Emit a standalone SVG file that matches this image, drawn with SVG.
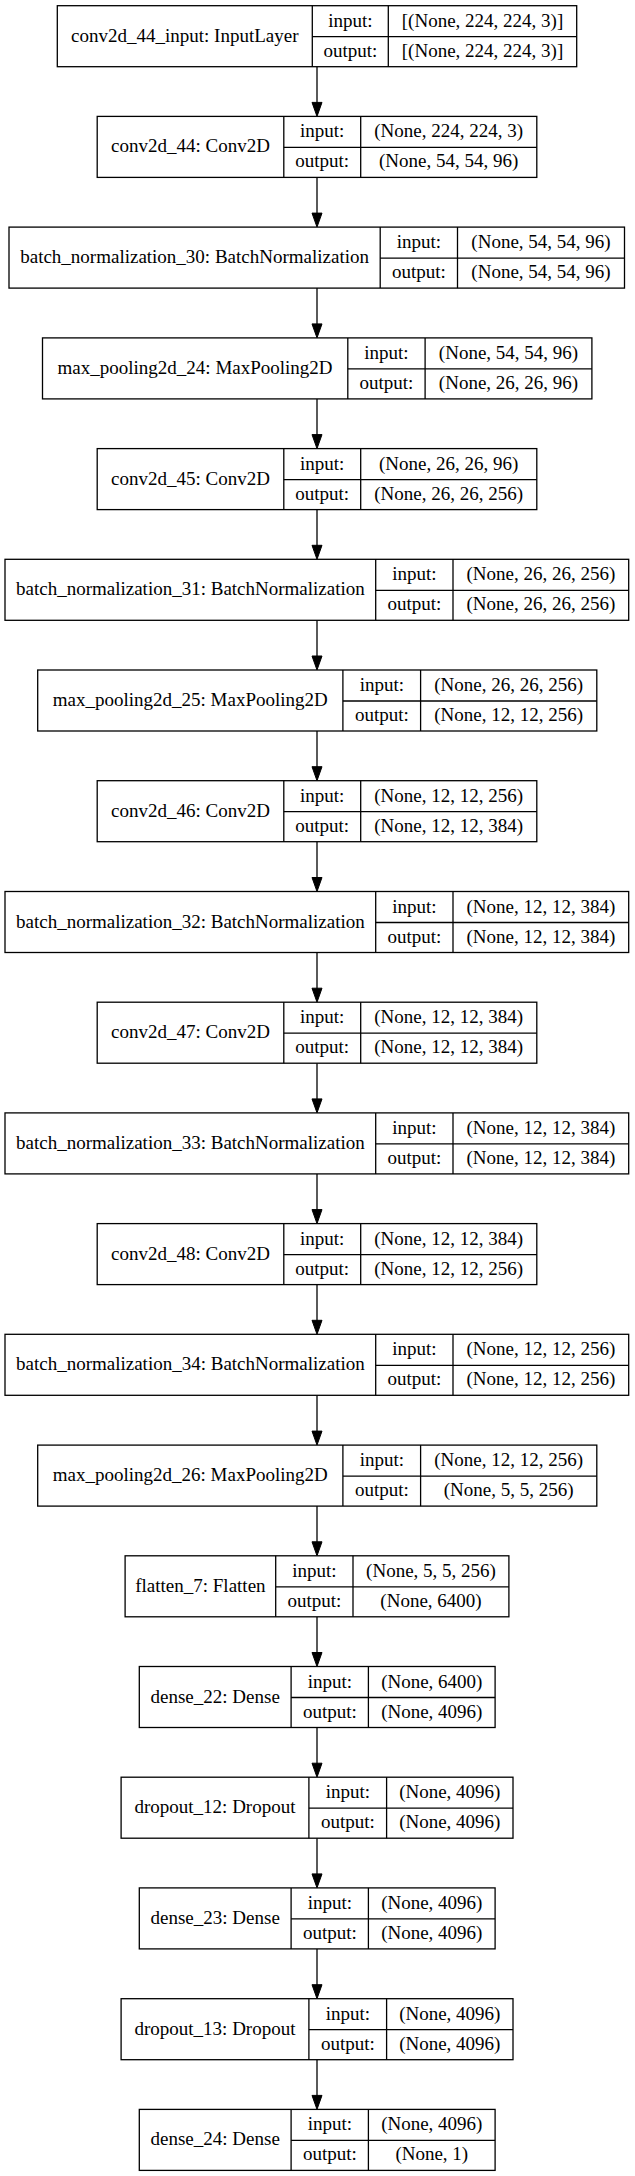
<svg xmlns="http://www.w3.org/2000/svg" width="635" height="2176" viewBox="0 0 635 2176">
<style>
.b{fill:#fff;stroke:#000;stroke-width:1.3}
.l{stroke:#000;stroke-width:1.3;fill:none}
text{font-family:"Liberation Serif","Times New Roman",serif;font-size:19px;fill:#000;text-anchor:middle}
.e{stroke:#000;stroke-width:1.3;fill:none}
.h{fill:#000;stroke:#000;stroke-width:1}
</style>
<rect width="635" height="2176" fill="#fff"/>
<g id="connectors">
<line class="e" x1="317" y1="66.7" x2="317" y2="103"/><polygon class="h" points="312,102.4 322,102.4 317,116.4"/>
<line class="e" x1="317" y1="177.4" x2="317" y2="214"/><polygon class="h" points="312,213.1 322,213.1 317,227.1"/>
<line class="e" x1="317" y1="288.1" x2="317" y2="324"/><polygon class="h" points="312,323.9 322,323.9 317,337.9"/>
<line class="e" x1="317" y1="398.9" x2="317" y2="435"/><polygon class="h" points="312,434.6 322,434.6 317,448.6"/>
<line class="e" x1="317" y1="509.6" x2="317" y2="546"/><polygon class="h" points="312,545.3 322,545.3 317,559.3"/>
<line class="e" x1="317" y1="620.3" x2="317" y2="657"/><polygon class="h" points="312,656 322,656 317,670"/>
<line class="e" x1="317" y1="731" x2="317" y2="767"/><polygon class="h" points="312,766.7 322,766.7 317,780.7"/>
<line class="e" x1="317" y1="841.7" x2="317" y2="878"/><polygon class="h" points="312,877.5 322,877.5 317,891.5"/>
<line class="e" x1="317" y1="952.5" x2="317" y2="989"/><polygon class="h" points="312,988.2 322,988.2 317,1002.2"/>
<line class="e" x1="317" y1="1063.2" x2="317" y2="1099"/><polygon class="h" points="312,1098.9 322,1098.9 317,1112.9"/>
<line class="e" x1="317" y1="1173.9" x2="317" y2="1210"/><polygon class="h" points="312,1209.6 322,1209.6 317,1223.6"/>
<line class="e" x1="317" y1="1284.6" x2="317" y2="1321"/><polygon class="h" points="312,1320.3 322,1320.3 317,1334.3"/>
<line class="e" x1="317" y1="1395.3" x2="317" y2="1432"/><polygon class="h" points="312,1431.1 322,1431.1 317,1445.1"/>
<line class="e" x1="317" y1="1506.1" x2="317" y2="1542"/><polygon class="h" points="312,1541.8 322,1541.8 317,1555.8"/>
<line class="e" x1="317" y1="1616.8" x2="317" y2="1653"/><polygon class="h" points="312,1652.5 322,1652.5 317,1666.5"/>
<line class="e" x1="317" y1="1727.5" x2="317" y2="1764"/><polygon class="h" points="312,1763.2 322,1763.2 317,1777.2"/>
<line class="e" x1="317" y1="1838.2" x2="317" y2="1874"/><polygon class="h" points="312,1873.9 322,1873.9 317,1887.9"/>
<line class="e" x1="317" y1="1948.9" x2="317" y2="1985"/><polygon class="h" points="312,1984.7 322,1984.7 317,1998.7"/>
<line class="e" x1="317" y1="2059.7" x2="317" y2="2096"/><polygon class="h" points="312,2095.4 322,2095.4 317,2109.4"/>
</g>

<g id="conv2d_44_input" transform="translate(0,5.7)">
<rect class="b" x="57.3" y="0" width="519.4" height="61"/>
<line class="l" x1="312.3" y1="0" x2="312.3" y2="61"/><line class="l" x1="388.3" y1="0" x2="388.3" y2="61"/><line class="l" x1="312.3" y1="31" x2="576.7" y2="31"/>
<text x="184.8" y="36">conv2d_44_input: InputLayer</text>
<text x="350.3" y="21">input:</text><text x="350.3" y="51">output:</text>
<text x="482.5" y="21">[(None, 224, 224, 3)]</text><text x="482.5" y="51">[(None, 224, 224, 3)]</text>
</g>

<g id="conv2d_44" transform="translate(0,116.4)">
<rect class="b" x="97.2" y="0" width="439.6" height="61"/>
<line class="l" x1="283.8" y1="0" x2="283.8" y2="61"/><line class="l" x1="360.7" y1="0" x2="360.7" y2="61"/><line class="l" x1="283.8" y1="31" x2="536.8" y2="31"/>
<text x="190.5" y="36">conv2d_44: Conv2D</text>
<text x="322.2" y="21">input:</text><text x="322.2" y="51">output:</text>
<text x="448.7" y="21">(None, 224, 224, 3)</text><text x="448.7" y="51">(None, 54, 54, 96)</text>
</g>

<g id="batch_normalization_30" transform="translate(0,227.1)">
<rect class="b" x="9" y="0" width="615.5" height="61"/>
<line class="l" x1="380.2" y1="0" x2="380.2" y2="61"/><line class="l" x1="457.5" y1="0" x2="457.5" y2="61"/><line class="l" x1="380.2" y1="31" x2="624.5" y2="31"/>
<text x="194.6" y="36">batch_normalization_30: BatchNormalization</text>
<text x="418.8" y="21">input:</text><text x="418.8" y="51">output:</text>
<text x="541" y="21">(None, 54, 54, 96)</text><text x="541" y="51">(None, 54, 54, 96)</text>
</g>

<g id="max_pooling2d_24" transform="translate(0,337.9)">
<rect class="b" x="42.5" y="0" width="549.4" height="61"/>
<line class="l" x1="347.8" y1="0" x2="347.8" y2="61"/><line class="l" x1="425.1" y1="0" x2="425.1" y2="61"/><line class="l" x1="347.8" y1="31" x2="591.9" y2="31"/>
<text x="195.1" y="36">max_pooling2d_24: MaxPooling2D</text>
<text x="386.4" y="21">input:</text><text x="386.4" y="51">output:</text>
<text x="508.5" y="21">(None, 54, 54, 96)</text><text x="508.5" y="51">(None, 26, 26, 96)</text>
</g>

<g id="conv2d_45" transform="translate(0,448.6)">
<rect class="b" x="97.2" y="0" width="439.6" height="61"/>
<line class="l" x1="283.8" y1="0" x2="283.8" y2="61"/><line class="l" x1="360.7" y1="0" x2="360.7" y2="61"/><line class="l" x1="283.8" y1="31" x2="536.8" y2="31"/>
<text x="190.5" y="36">conv2d_45: Conv2D</text>
<text x="322.2" y="21">input:</text><text x="322.2" y="51">output:</text>
<text x="448.7" y="21">(None, 26, 26, 96)</text><text x="448.7" y="51">(None, 26, 26, 256)</text>
</g>

<g id="batch_normalization_31" transform="translate(0,559.3)">
<rect class="b" x="5" y="0" width="623.7" height="61"/>
<line class="l" x1="375.7" y1="0" x2="375.7" y2="61"/><line class="l" x1="453" y1="0" x2="453" y2="61"/><line class="l" x1="375.7" y1="31" x2="628.7" y2="31"/>
<text x="190.4" y="36">batch_normalization_31: BatchNormalization</text>
<text x="414.4" y="21">input:</text><text x="414.4" y="51">output:</text>
<text x="540.9" y="21">(None, 26, 26, 256)</text><text x="540.9" y="51">(None, 26, 26, 256)</text>
</g>

<g id="max_pooling2d_25" transform="translate(0,670)">
<rect class="b" x="37.7" y="0" width="559.1" height="61"/>
<line class="l" x1="342.9" y1="0" x2="342.9" y2="61"/><line class="l" x1="420.6" y1="0" x2="420.6" y2="61"/><line class="l" x1="342.9" y1="31" x2="596.8" y2="31"/>
<text x="190.3" y="36">max_pooling2d_25: MaxPooling2D</text>
<text x="381.8" y="21">input:</text><text x="381.8" y="51">output:</text>
<text x="508.7" y="21">(None, 26, 26, 256)</text><text x="508.7" y="51">(None, 12, 12, 256)</text>
</g>

<g id="conv2d_46" transform="translate(0,780.7)">
<rect class="b" x="97.2" y="0" width="439.6" height="61"/>
<line class="l" x1="283.8" y1="0" x2="283.8" y2="61"/><line class="l" x1="360.7" y1="0" x2="360.7" y2="61"/><line class="l" x1="283.8" y1="31" x2="536.8" y2="31"/>
<text x="190.5" y="36">conv2d_46: Conv2D</text>
<text x="322.2" y="21">input:</text><text x="322.2" y="51">output:</text>
<text x="448.7" y="21">(None, 12, 12, 256)</text><text x="448.7" y="51">(None, 12, 12, 384)</text>
</g>

<g id="batch_normalization_32" transform="translate(0,891.5)">
<rect class="b" x="5" y="0" width="623.7" height="61"/>
<line class="l" x1="375.7" y1="0" x2="375.7" y2="61"/><line class="l" x1="453" y1="0" x2="453" y2="61"/><line class="l" x1="375.7" y1="31" x2="628.7" y2="31"/>
<text x="190.4" y="36">batch_normalization_32: BatchNormalization</text>
<text x="414.4" y="21">input:</text><text x="414.4" y="51">output:</text>
<text x="540.9" y="21">(None, 12, 12, 384)</text><text x="540.9" y="51">(None, 12, 12, 384)</text>
</g>

<g id="conv2d_47" transform="translate(0,1002.2)">
<rect class="b" x="97.2" y="0" width="439.6" height="61"/>
<line class="l" x1="283.8" y1="0" x2="283.8" y2="61"/><line class="l" x1="360.7" y1="0" x2="360.7" y2="61"/><line class="l" x1="283.8" y1="31" x2="536.8" y2="31"/>
<text x="190.5" y="36">conv2d_47: Conv2D</text>
<text x="322.2" y="21">input:</text><text x="322.2" y="51">output:</text>
<text x="448.7" y="21">(None, 12, 12, 384)</text><text x="448.7" y="51">(None, 12, 12, 384)</text>
</g>

<g id="batch_normalization_33" transform="translate(0,1112.9)">
<rect class="b" x="5" y="0" width="623.7" height="61"/>
<line class="l" x1="375.7" y1="0" x2="375.7" y2="61"/><line class="l" x1="453" y1="0" x2="453" y2="61"/><line class="l" x1="375.7" y1="31" x2="628.7" y2="31"/>
<text x="190.4" y="36">batch_normalization_33: BatchNormalization</text>
<text x="414.4" y="21">input:</text><text x="414.4" y="51">output:</text>
<text x="540.9" y="21">(None, 12, 12, 384)</text><text x="540.9" y="51">(None, 12, 12, 384)</text>
</g>

<g id="conv2d_48" transform="translate(0,1223.6)">
<rect class="b" x="97.2" y="0" width="439.6" height="61"/>
<line class="l" x1="283.8" y1="0" x2="283.8" y2="61"/><line class="l" x1="360.7" y1="0" x2="360.7" y2="61"/><line class="l" x1="283.8" y1="31" x2="536.8" y2="31"/>
<text x="190.5" y="36">conv2d_48: Conv2D</text>
<text x="322.2" y="21">input:</text><text x="322.2" y="51">output:</text>
<text x="448.7" y="21">(None, 12, 12, 384)</text><text x="448.7" y="51">(None, 12, 12, 256)</text>
</g>

<g id="batch_normalization_34" transform="translate(0,1334.3)">
<rect class="b" x="5" y="0" width="623.7" height="61"/>
<line class="l" x1="375.7" y1="0" x2="375.7" y2="61"/><line class="l" x1="453" y1="0" x2="453" y2="61"/><line class="l" x1="375.7" y1="31" x2="628.7" y2="31"/>
<text x="190.4" y="36">batch_normalization_34: BatchNormalization</text>
<text x="414.4" y="21">input:</text><text x="414.4" y="51">output:</text>
<text x="540.9" y="21">(None, 12, 12, 256)</text><text x="540.9" y="51">(None, 12, 12, 256)</text>
</g>

<g id="max_pooling2d_26" transform="translate(0,1445.1)">
<rect class="b" x="37.7" y="0" width="559.1" height="61"/>
<line class="l" x1="342.9" y1="0" x2="342.9" y2="61"/><line class="l" x1="420.6" y1="0" x2="420.6" y2="61"/><line class="l" x1="342.9" y1="31" x2="596.8" y2="31"/>
<text x="190.3" y="36">max_pooling2d_26: MaxPooling2D</text>
<text x="381.8" y="21">input:</text><text x="381.8" y="51">output:</text>
<text x="508.7" y="21">(None, 12, 12, 256)</text><text x="508.7" y="51">(None, 5, 5, 256)</text>
</g>

<g id="flatten_7" transform="translate(0,1555.8)">
<rect class="b" x="125.1" y="0" width="383.8" height="61"/>
<line class="l" x1="275.7" y1="0" x2="275.7" y2="61"/><line class="l" x1="353" y1="0" x2="353" y2="61"/><line class="l" x1="275.7" y1="31" x2="508.9" y2="31"/>
<text x="200.4" y="36">flatten_7: Flatten</text>
<text x="314.4" y="21">input:</text><text x="314.4" y="51">output:</text>
<text x="431" y="21">(None, 5, 5, 256)</text><text x="431" y="51">(None, 6400)</text>
</g>

<g id="dense_22" transform="translate(0,1666.5)">
<rect class="b" x="139.3" y="0" width="355.8" height="61"/>
<line class="l" x1="291.1" y1="0" x2="291.1" y2="61"/><line class="l" x1="368.4" y1="0" x2="368.4" y2="61"/><line class="l" x1="291.1" y1="31" x2="495.1" y2="31"/>
<text x="215.2" y="36">dense_22: Dense</text>
<text x="329.8" y="21">input:</text><text x="329.8" y="51">output:</text>
<text x="431.8" y="21">(None, 6400)</text><text x="431.8" y="51">(None, 4096)</text>
</g>

<g id="dropout_12" transform="translate(0,1777.2)">
<rect class="b" x="121.1" y="0" width="391.9" height="61"/>
<line class="l" x1="308.9" y1="0" x2="308.9" y2="61"/><line class="l" x1="386.6" y1="0" x2="386.6" y2="61"/><line class="l" x1="308.9" y1="31" x2="513" y2="31"/>
<text x="215" y="36">dropout_12: Dropout</text>
<text x="347.8" y="21">input:</text><text x="347.8" y="51">output:</text>
<text x="449.8" y="21">(None, 4096)</text><text x="449.8" y="51">(None, 4096)</text>
</g>

<g id="dense_23" transform="translate(0,1887.9)">
<rect class="b" x="139.3" y="0" width="355.8" height="61"/>
<line class="l" x1="291.1" y1="0" x2="291.1" y2="61"/><line class="l" x1="368.4" y1="0" x2="368.4" y2="61"/><line class="l" x1="291.1" y1="31" x2="495.1" y2="31"/>
<text x="215.2" y="36">dense_23: Dense</text>
<text x="329.8" y="21">input:</text><text x="329.8" y="51">output:</text>
<text x="431.8" y="21">(None, 4096)</text><text x="431.8" y="51">(None, 4096)</text>
</g>

<g id="dropout_13" transform="translate(0,1998.7)">
<rect class="b" x="121.1" y="0" width="391.9" height="61"/>
<line class="l" x1="308.9" y1="0" x2="308.9" y2="61"/><line class="l" x1="386.6" y1="0" x2="386.6" y2="61"/><line class="l" x1="308.9" y1="31" x2="513" y2="31"/>
<text x="215" y="36">dropout_13: Dropout</text>
<text x="347.8" y="21">input:</text><text x="347.8" y="51">output:</text>
<text x="449.8" y="21">(None, 4096)</text><text x="449.8" y="51">(None, 4096)</text>
</g>

<g id="dense_24" transform="translate(0,2109.4)">
<rect class="b" x="139.3" y="0" width="355.8" height="61"/>
<line class="l" x1="291.1" y1="0" x2="291.1" y2="61"/><line class="l" x1="368.4" y1="0" x2="368.4" y2="61"/><line class="l" x1="291.1" y1="31" x2="495.1" y2="31"/>
<text x="215.2" y="36">dense_24: Dense</text>
<text x="329.8" y="21">input:</text><text x="329.8" y="51">output:</text>
<text x="431.8" y="21">(None, 4096)</text><text x="431.8" y="51">(None, 1)</text>
</g>
</svg>
